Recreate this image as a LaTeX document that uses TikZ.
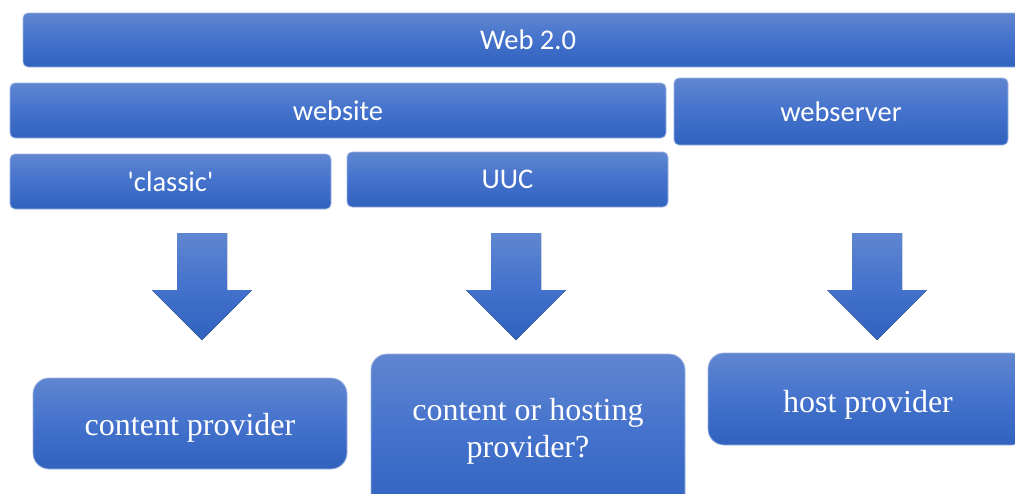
\documentclass[tikz,border=0pt]{standalone}
\usepackage{fontspec}
\setmainfont{Liberation Serif}
\newfontfamily\calfont{Carlito}
\definecolor{gtop}{HTML}{5F86D0}
\definecolor{gmid}{HTML}{4472CC}
\definecolor{gbot}{HTML}{3062BE}
\definecolor{edgec}{HTML}{9DB3E0}
\tikzset{
  grad/.style={top color=gtop, bottom color=gbot, middle color=gmid},
  topbox/.style={grad, draw=edgec, line width=0.8pt, rounded corners=5pt,
    text=white, font=\calfont\fontsize{28.5}{32}\selectfont, inner sep=0pt},
  botbox/.style={grad, draw=edgec, line width=0.8pt, rounded corners=16pt, inner sep=0pt},
  bottext/.style={text=white, font=\fontsize{32}{37}\selectfont, inner sep=0pt, align=center, anchor=base},
  blockarrow/.style={grad, draw=none}
}
\begin{document}
\begin{tikzpicture}[x=1pt,y=-1pt]
\useasboundingbox (0,0) rectangle (1015,493);
\clip (0,0) rectangle (1015,493);
% top row
\node[topbox, minimum width=1010pt, minimum height=54pt] (web) at (528,40) {Web 2.0};
\node[topbox, minimum width=656pt, minimum height=55pt] (site) at (338,110.5) {website};
\node[topbox, minimum width=334pt, minimum height=67pt] (server) at (841,111.5) {webserver};
\node[topbox, minimum width=321pt, minimum height=55pt] (classic) at (170.5,181.5) {'classic'};
\node[topbox, minimum width=321pt, minimum height=55pt] (uuc) at (507.5,179.5) {UUC};
% arrows
\foreach \cx in {202,516,877}{
  \fill[blockarrow] (\cx-25,233) -- (\cx+25,233) -- (\cx+25,290) -- (\cx+50,290)
    -- (\cx,340) -- (\cx-50,290) -- (\cx-25,290) -- cycle;
}
% bottom row
\node[botbox, minimum width=314pt, minimum height=91pt] (cp) at (190,423.5) {};
\node[bottext] (cpt) at (190,435) {content provider};
\node[botbox, minimum width=314pt, minimum height=160pt] (chp) at (528,434) {};
\node[bottext] (chpt1) at (528,420) {content or hosting};
\node[bottext] (chpt2) at (528,457) {provider?};
\node[botbox, minimum width=320pt, minimum height=92pt] (hp) at (868,399) {};
\node[bottext] (hpt) at (868,412) {host provider};
\end{tikzpicture}
\end{document}
